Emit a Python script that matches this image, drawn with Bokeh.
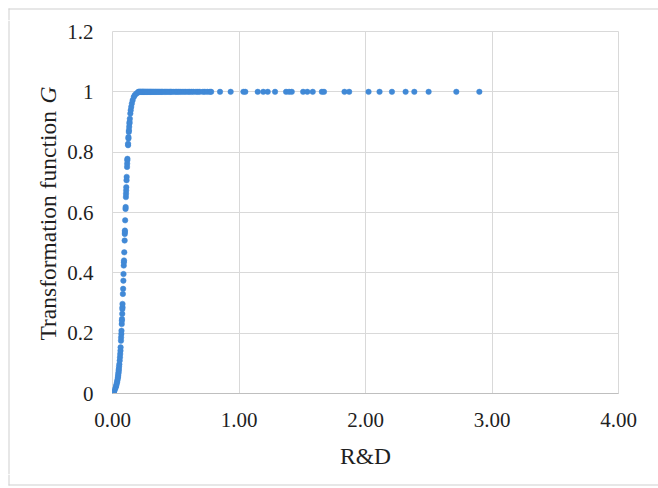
import math
from bokeh.plotting import figure
from bokeh.layouts import row, column
from bokeh.models import FixedTicker, Range1d
from bokeh.core.properties import value
from bokeh.embed import file_html
from bokeh.resources import INLINE

# ---- data ----
rise_x = [0.004, 0.008, 0.012, 0.014, 0.019, 0.025, 0.029, 0.032, 0.036, 0.038,
          0.041, 0.043, 0.045, 0.046, 0.048, 0.049, 0.050, 0.052, 0.054, 0.057,
          0.059, 0.061, 0.063, 0.064, 0.067, 0.068, 0.070, 0.071, 0.073, 0.074,
          0.075, 0.077, 0.078, 0.079, 0.079, 0.082, 0.084, 0.086, 0.087, 0.089,
          0.090, 0.091, 0.093, 0.096, 0.097, 0.098, 0.098, 0.100, 0.103, 0.104,
          0.106, 0.107, 0.108, 0.109, 0.111, 0.112, 0.115, 0.116, 0.117, 0.118,
          0.123, 0.123, 0.126, 0.126, 0.129, 0.130, 0.132, 0.134, 0.135, 0.137,
          0.141, 0.144, 0.148, 0.153, 0.159, 0.168, 0.176, 0.187, 0.199]
rise_y = [0.002, 0.004, 0.006, 0.009, 0.014, 0.020, 0.025, 0.031, 0.037, 0.042,
          0.048, 0.054, 0.059, 0.065, 0.070, 0.076, 0.081, 0.089, 0.097, 0.109,
          0.120, 0.131, 0.142, 0.153, 0.175, 0.186, 0.197, 0.208, 0.230, 0.241,
          0.247, 0.264, 0.280, 0.286, 0.297, 0.330, 0.347, 0.374, 0.396, 0.424,
          0.435, 0.441, 0.468, 0.507, 0.529, 0.535, 0.540, 0.574, 0.612, 0.618,
          0.651, 0.662, 0.673, 0.684, 0.707, 0.718, 0.751, 0.762, 0.773, 0.778,
          0.823, 0.828, 0.845, 0.850, 0.867, 0.873, 0.884, 0.895, 0.900, 0.911,
          0.928, 0.939, 0.950, 0.961, 0.972, 0.983, 0.989, 0.994, 0.997]

flat_x = [0.205, 0.210, 0.215, 0.220, 0.225, 0.230, 0.236, 0.240, 0.245, 0.250,
          0.256, 0.262, 0.268, 0.275, 0.280, 0.287, 0.293, 0.300, 0.306, 0.313,
          0.320, 0.327, 0.335, 0.342, 0.350, 0.358, 0.366, 0.374, 0.383, 0.390,
          0.398, 0.410, 0.420, 0.430, 0.440, 0.452, 0.460, 0.470, 0.485, 0.500,
          0.510, 0.523, 0.535, 0.550, 0.565, 0.580, 0.597, 0.610, 0.625, 0.640,
          0.660, 0.675, 0.690, 0.715, 0.730, 0.750, 0.770, 0.780, 0.850, 0.934,
          1.035, 1.050, 1.148, 1.192, 1.227, 1.285, 1.372, 1.396, 1.417, 1.507,
          1.540, 1.583, 1.655, 1.672, 1.834, 1.871, 2.024, 2.111, 2.209, 2.317,
          2.386, 2.499, 2.718, 2.900]
flat_y = [1.0] * len(flat_x)

x_ticks = [0, 1, 2, 3, 4]
x_tick_labels = ["0.00", "1.00", "2.00", "3.00", "4.00"]
y_ticks = [0, 0.2, 0.4, 0.6, 0.8, 1.0, 1.2]
y_tick_labels = ["0", "0.2", "0.4", "0.6", "0.8", "1", "1.2"]

x_title = "R&D"
y_title_parts = ["Transformation function", "G"]

FONT = "Liberation Serif"
TICK_SIZE = "21px"
TITLE_SIZE = "23.5px"
TEXT_COLOR = "#1f1f1f"
GRID = "#d9d9d9"
FRAME = "#d0d0d0"
DOT = "#4189D6"

W, H = 658, 488
TOP_H, BOT_H = 20, 14        # strips carrying the faint outer chart border
MID_H = H - TOP_H - BOT_H
LEFT_W = 62
BORDER_TOP, BORDER_BOTTOM, BORDER_LEFT = 8, 484, 8


def strip(height, y_screen_local):
    s = figure(width=W, height=height, output_backend="svg", toolbar_location=None,
               x_range=Range1d(0, W), y_range=Range1d(0, height),
               min_border=0, min_border_left=0, min_border_right=0,
               min_border_top=0, min_border_bottom=0)
    s.frame_align = False
    s.axis.visible = False
    s.grid.visible = False
    s.outline_line_color = None
    s.background_fill_color = "white"
    s.border_fill_color = "white"
    yd = height - y_screen_local
    s.quad(left=[BORDER_LEFT], right=[W], bottom=[yd - 1], top=[yd],
           fill_color=FRAME, line_color=None)
    if y_screen_local < height / 2:
        s.quad(left=[BORDER_LEFT], right=[BORDER_LEFT + 1], bottom=[0], top=[yd],
               fill_color=FRAME, line_color=None)
    else:
        s.quad(left=[BORDER_LEFT], right=[BORDER_LEFT + 1], bottom=[yd - 1], top=[height],
               fill_color=FRAME, line_color=None)
    return s


top = strip(TOP_H, BORDER_TOP)
bottom = strip(BOT_H, BORDER_BOTTOM - (H - BOT_H))

# ---- narrow panel holding the vertical y-axis title (frame = whole panel) ----
t = figure(width=LEFT_W, height=MID_H, output_backend="svg", toolbar_location=None,
           x_range=Range1d(0, LEFT_W), y_range=Range1d(0, MID_H),
           min_border=0, min_border_left=0, min_border_right=0,
           min_border_top=0, min_border_bottom=0)
t.frame_align = False
t.axis.visible = False
t.grid.visible = False
t.outline_line_color = None
t.background_fill_color = "white"
t.border_fill_color = "white"
t.text(x=[47], y=[MID_H - (340 - TOP_H)], text=[y_title_parts[0]], angle=math.pi / 2,
       text_font=value(FONT), text_font_size=TITLE_SIZE, text_color=TEXT_COLOR,
       text_align="left", text_baseline="middle")
t.text(x=[47], y=[MID_H - (103 - TOP_H)], text=[y_title_parts[1]], angle=math.pi / 2,
       text_font=value(FONT), text_font_size=TITLE_SIZE, text_font_style="italic",
       text_color=TEXT_COLOR, text_align="left", text_baseline="middle")
t.quad(left=[BORDER_LEFT], right=[BORDER_LEFT + 1], bottom=[0], top=[MID_H],
       fill_color=FRAME, line_color=None)

# ---- main scatter ----
p = figure(width=W - LEFT_W, height=MID_H, output_backend="svg", toolbar_location=None,
           x_range=Range1d(0, 4), y_range=Range1d(0, 1.2),
           min_border_left=112 - LEFT_W, min_border_right=40,
           min_border_top=31 - TOP_H, min_border_bottom=MID_H - (393 - TOP_H))
p.frame_align = False
p.outline_line_color = GRID
p.background_fill_color = "white"
p.border_fill_color = "white"

p.scatter(rise_x + flat_x, rise_y + flat_y, size=5.5, marker="circle",
          fill_color=DOT, line_color=DOT, line_width=0.5)

p.xaxis.ticker = FixedTicker(ticks=x_ticks)
p.xaxis.major_label_overrides = {k: v for k, v in zip(x_ticks, x_tick_labels)}
p.yaxis.ticker = FixedTicker(ticks=y_ticks)
p.yaxis.major_label_overrides = {k: v for k, v in zip(y_ticks, y_tick_labels)}

for ax in (p.xaxis[0], p.yaxis[0]):
    ax.major_tick_line_color = None
    ax.minor_tick_line_color = None
    ax.major_label_text_font = FONT
    ax.major_label_text_font_size = TICK_SIZE
    ax.major_label_text_color = TEXT_COLOR
    ax.axis_label_text_font = FONT
    ax.axis_label_text_font_size = TITLE_SIZE
    ax.axis_label_text_font_style = "normal"
    ax.axis_label_text_color = TEXT_COLOR

p.xaxis.axis_line_color = "#bfbfbf"
p.yaxis.axis_line_color = None
p.xaxis.major_label_standoff = 13
p.yaxis.major_label_standoff = 13
p.xaxis.axis_label = x_title
p.xaxis.axis_label_standoff = 13

p.xgrid.grid_line_color = GRID
p.ygrid.grid_line_color = GRID

layout = column(top, row(t, p), bottom)

open("out.html", "w").write(file_html(layout, INLINE))
